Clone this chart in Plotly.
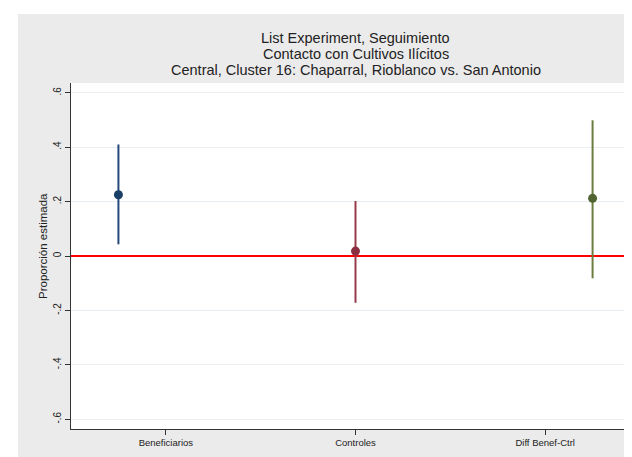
import plotly.graph_objects as go

# Data
categories = ["Beneficiarios", "Controles", "Diff Benef-Ctrl"]
tick_positions = [1, 2, 3]
point_positions = [0.75, 2, 3.25]
estimates = [0.225, 0.018, 0.212]
ci_upper = [0.410, 0.202, 0.499]
ci_lower = [0.043, -0.172, -0.082]
marker_colors = ["#1a3f66", "#8a2f3f", "#4f6430"]
line_colors = ["#24497a", "#973a4b", "#6b7d3e"]
y_tickvals = [-0.6, -0.4, -0.2, 0, 0.2, 0.4, 0.6]
y_ticktext = ["-.6", "-.4", "-.2", "0", ".2", ".4", ".6"]
title_lines = ["List Experiment, Seguimiento",
               "Contacto con Cultivos Ilícitos",
               "Central, Cluster 16: Chaparral, Rioblanco vs. San Antonio"]
y_title = "Proporción estimada"

L, T, B, W, H = 63, 75, 36, 632, 457
PW, PH = W - L, H - T - B


def px_x(x):
    return (x - L) / PW


def px_y(y):
    return (H - B - y) / PH


fig = go.Figure()
for i in range(len(categories)):
    fig.add_trace(go.Scatter(
        x=[point_positions[i]], y=[estimates[i]],
        mode="markers",
        marker=dict(color=marker_colors[i], size=9),
        error_y=dict(type="data", symmetric=False,
                     array=[ci_upper[i] - estimates[i]],
                     arrayminus=[estimates[i] - ci_lower[i]],
                     color=line_colors[i], thickness=2, width=0),
        showlegend=False, name=categories[i]))

# scan-like white borders
fig.add_shape(type="rect", xref="paper", yref="paper", x0=-0.2, x1=px_x(10),
              y0=-0.2, y1=1.3, fillcolor="white", line=dict(width=0), layer="above")
fig.add_shape(type="rect", xref="paper", yref="paper", x0=-0.2, x1=1.1,
              y0=px_y(6), y1=1.3, fillcolor="white", line=dict(width=0), layer="above")
fig.add_shape(type="rect", xref="paper", yref="paper", x0=-0.2, x1=1.1,
              y0=-0.2, y1=px_y(452), fillcolor="white", line=dict(width=0), layer="above")

title_y_px = [30, 46, 62]
for line, ypx in zip(title_lines, title_y_px):
    fig.add_annotation(text=line, xref="paper", yref="paper", x=0.5,
                       y=px_y(ypx), showarrow=False, xanchor="center",
                       yanchor="middle", borderpad=0,
                       font=dict(family="Arial, Liberation Sans", size=14.5, color="#222222"))

fig.add_annotation(text=y_title, xref="paper", yref="paper", x=px_x(35), y=px_y(238),
                   showarrow=False, textangle=-90, xanchor="center", yanchor="middle",
                   font=dict(family="Arial, Liberation Sans", size=11.5, color="#222222"))

fig.update_layout(
    width=W, height=H,
    margin=dict(l=L, r=0, t=T, b=B, autoexpand=False),
    paper_bgcolor="#ebebeb", plot_bgcolor="white",
    font=dict(family="Arial, Liberation Sans", color="#222222"),
    xaxis=dict(range=[0.5, 3.5], tickvals=tick_positions, ticktext=categories,
               automargin=False,
               showgrid=False, zeroline=False, showline=True, linecolor="#333333",
               linewidth=1, ticks="outside", ticklen=5, tickcolor="#333333",
               tickfont=dict(size=9.5, color="#222222")),
    yaxis=dict(range=[-0.636, 0.636], tickvals=y_tickvals, ticktext=y_ticktext,
               automargin=False,
               tickangle=-90, showgrid=True, gridcolor="#e9eef3", gridwidth=1,
               zeroline=True, zerolinecolor="#ff0000", zerolinewidth=2,
               showline=True, linecolor="#333333", linewidth=1,
               ticks="outside", ticklen=5, tickcolor="#333333",
               tickfont=dict(size=10, color="#222222")),
)

fig.write_html("out.html")
